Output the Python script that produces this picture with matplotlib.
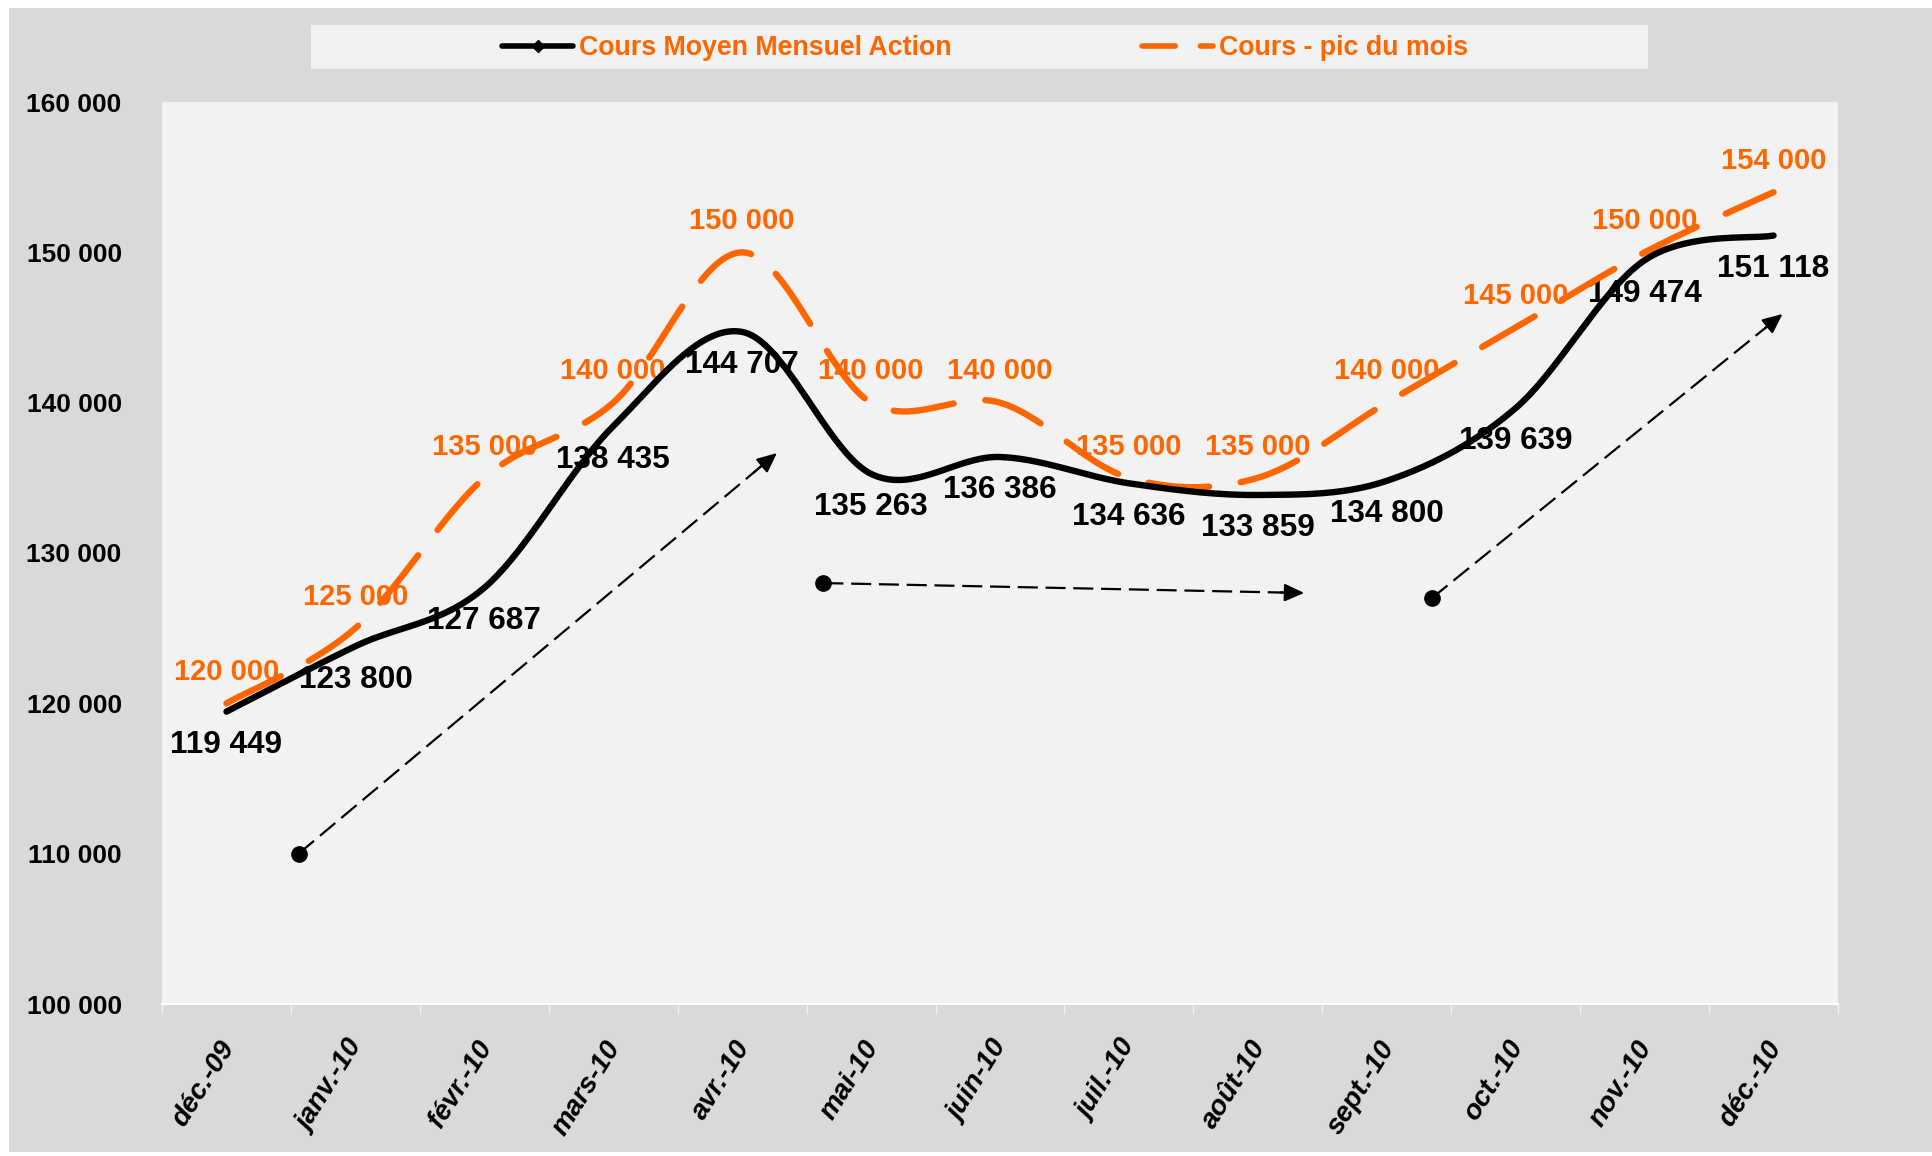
import numpy as np
import matplotlib
matplotlib.use("Agg")
import matplotlib.pyplot as plt
from matplotlib.lines import Line2D
from matplotlib.patches import Rectangle
from matplotlib.transforms import ScaledTranslation

plt.rcParams['font.family'] = ['Liberation Sans', 'DejaVu Sans']

# ---------------- data ----------------
months = ["déc.-09", "janv.-10", "févr.-10", "mars-10", "avr.-10", "mai-10",
          "juin-10", "juil.-10", "août-10", "sept.-10", "oct.-10", "nov.-10", "déc.-10"]
cours_moyen = [119449, 123800, 127687, 138435, 144707, 135263, 136386,
               134636, 133859, 134800, 139639, 149474, 151118]
cours_pic = [120000, 125000, 135000, 140000, 150000, 140000, 140000,
             135000, 135000, 140000, 145000, 150000, 154000]
y_ticks = [100000, 110000, 120000, 130000, 140000, 150000, 160000]
series_names = ["Cours Moyen Mensuel Action", "Cours - pic du mois"]

# trend arrows (start -> end) in data units (category index, value)
arrow_starts = [(0.56, 110000), (4.63, 128000), (9.35, 127000)]
arrow_ends = [(4.27, 136650), (8.36, 127340), (12.07, 145900)]

ORANGE = "#FF6600"
FIG_BG = "#D9D9D9"
PLOT_BG = "#F2F2F2"


def fmt(v):
    return f"{v:,}".replace(",", " ")


def smooth(xs, ys, n=40):
    """Excel-like smoothed line (Catmull-Rom / cubic Bezier)."""
    P = np.column_stack([xs, ys]).astype(float)
    ext = np.vstack([P[0], P, P[-1]])
    out = []
    t = np.linspace(0, 1, n)[:, None]
    for i in range(len(P) - 1):
        p0, p1, p2, p3 = ext[i], ext[i + 1], ext[i + 2], ext[i + 3]
        b1 = p1 + (p2 - p0) / 6.0
        b2 = p2 - (p3 - p1) / 6.0
        seg = ((1 - t) ** 3) * p1 + 3 * ((1 - t) ** 2) * t * b1 + 3 * (1 - t) * t ** 2 * b2 + t ** 3 * p2
        out.append(seg if i == 0 else seg[1:])
    out = np.vstack(out)
    return out[:, 0], out[:, 1]


W, H = 1932, 1156
fig = plt.figure(figsize=(W / 100, H / 100), dpi=100, facecolor="white")

# gray chart area background
fig.patches.append(Rectangle((9 / W, 4 / H), 1 - 9 / W, (1152 - 8) / H,
                             transform=fig.transFigure, facecolor=FIG_BG,
                             edgecolor="none", zorder=-10))
# legend box
fig.patches.append(Rectangle((311 / W, (H - 69) / H), 1337 / W, 44 / H,
                             transform=fig.transFigure, facecolor=PLOT_BG,
                             edgecolor="none", zorder=-5))

ax = fig.add_axes([162 / W, (H - 1004) / H, 1676 / W, 902 / H])
ax.set_facecolor(PLOT_BG)

x = np.arange(len(months))

# lines
sx, sy = smooth(x, cours_moyen)
ax.plot(sx, sy, color="black", lw=4.6, solid_capstyle="round", zorder=5)
px, py = smooth(x, cours_pic)
ax.plot(px, py, color=ORANGE, lw=4.6, dashes=(9.5, 5),
        dash_capstyle="round", zorder=4)

# data labels
for xi, v in zip(x, cours_moyen):
    ax.annotate(fmt(v), (xi, v), xytext=(0, -24), textcoords="offset points",
                ha="center", va="center", fontsize=22.7, fontweight="bold",
                color="black", zorder=3)
for xi, v in zip(x, cours_pic):
    ax.annotate(fmt(v), (xi, v), xytext=(0, 22.5), textcoords="offset points",
                ha="center", va="center", fontsize=21, fontweight="bold",
                color=ORANGE, zorder=3)

# trend arrows
for (x0, y0), (x1, y1) in zip(arrow_starts, arrow_ends):
    ax.plot([x0, x1 - (x1 - x0) * 0.02], [y0, y1 - (y1 - y0) * 0.02],
            color="black", lw=1.6, dashes=(9, 3.5), zorder=6)
    ax.plot([x0], [y0], "o", color="black", ms=11, zorder=6)
    ax.annotate("", xy=(x1, y1), xytext=(x1 - (x1 - x0) * 0.05, y1 - (y1 - y0) * 0.05),
                arrowprops=dict(arrowstyle="-|>,head_length=0.6,head_width=0.27",
                                mutation_scale=20, color="black", lw=1.6,
                                shrinkA=0, shrinkB=0), zorder=6)

# axes
ax.set_xlim(-0.5, len(months) - 0.5)
ax.set_ylim(y_ticks[0], y_ticks[-1])
ax.set_yticks(y_ticks)
ax.set_yticklabels([fmt(v) for v in y_ticks], fontsize=19, fontweight="bold")
ax.tick_params(axis="y", length=0, pad=29)

ax.set_xticks(x)
ax.set_xticklabels(months, rotation=58, ha="right", va="top",
                   rotation_mode="anchor", fontsize=20, fontweight="bold",
                   fontstyle="italic")
ax.tick_params(axis="x", which="major", length=0, pad=23)
shift = ScaledTranslation(-9 / 100, 0, fig.dpi_scale_trans)
for lab in ax.get_xticklabels():
    lab.set_transform(lab.get_transform() + shift)
ax.set_xticks(np.arange(-0.5, len(months), 1.0), minor=True)
ax.tick_params(axis="x", which="minor", length=7, width=1, color="#F2F2F2",
               direction="out")

for s in ["top", "right", "left"]:
    ax.spines[s].set_visible(False)
ax.spines["bottom"].set_color("white")
ax.spines["bottom"].set_linewidth(1.5)

# legend
handles = [
    Line2D([], [], color="black", lw=4, marker="D", ms=6, solid_capstyle="round"),
    Line2D([], [], color=ORANGE, lw=4, dashes=(6, 4.5), dash_capstyle="round"),
]
leg = fig.legend(handles, series_names, loc="center left",
                 bbox_to_anchor=(502 / W, (H - 48) / H), ncol=2, frameon=False,
                 prop=dict(size=19.3, weight="bold"), handlelength=2.65,
                 handletextpad=0.22, columnspacing=7.1, borderpad=0,
                 borderaxespad=0, numpoints=1)
for t in leg.get_texts():
    t.set_color(ORANGE)

fig.savefig("out.png", dpi=100, facecolor="white")
